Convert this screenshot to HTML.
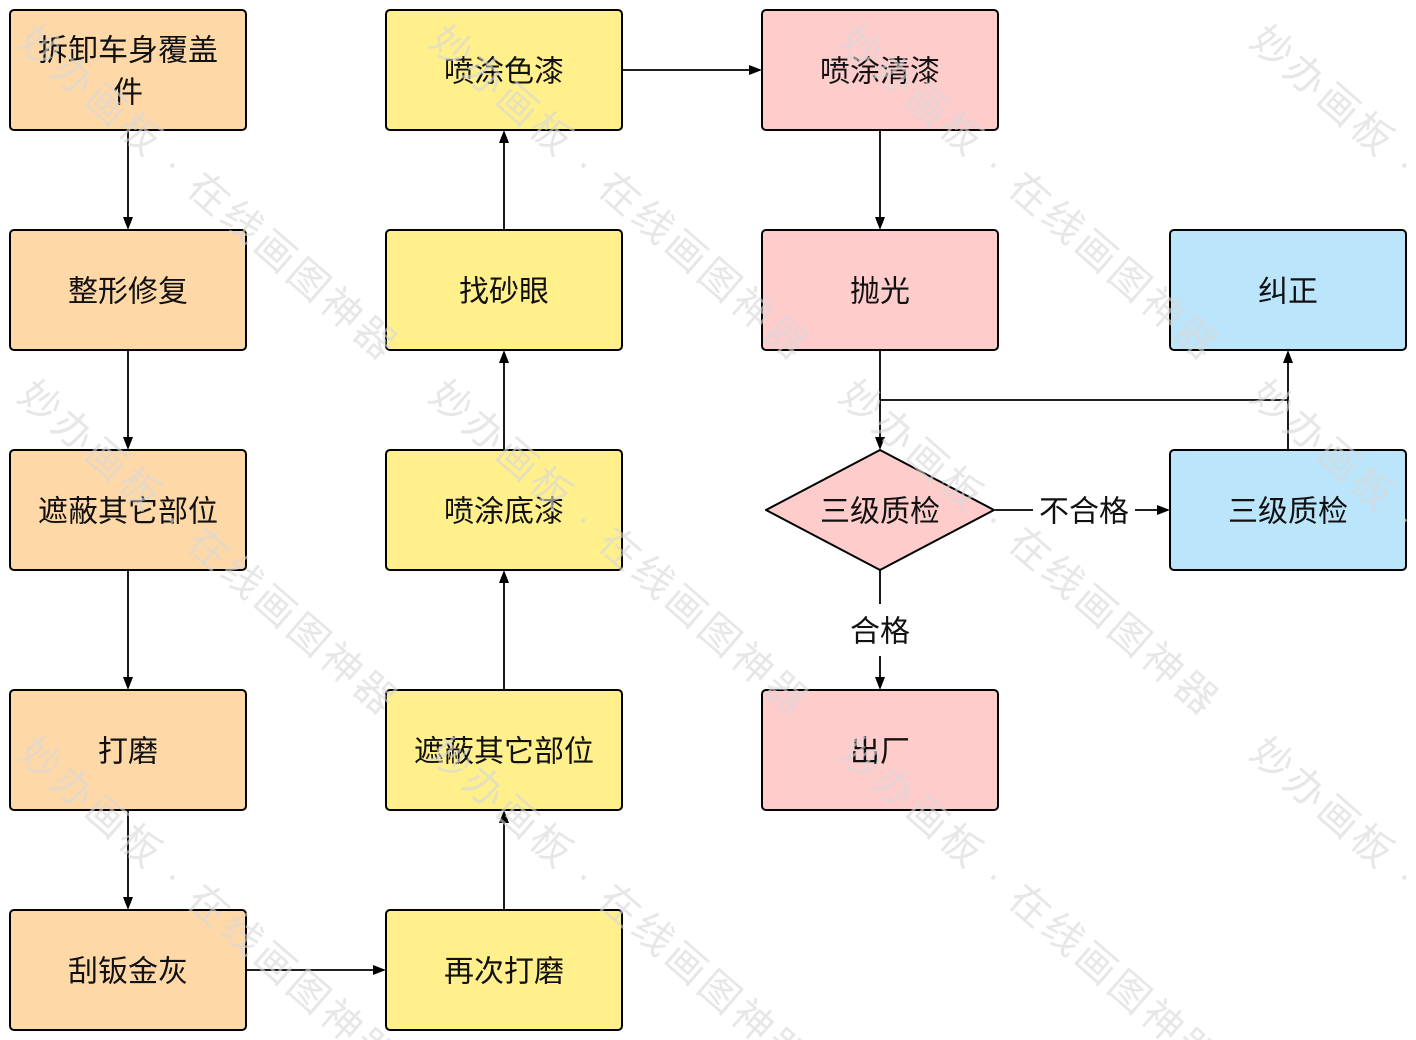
<!DOCTYPE html>
<html><head><meta charset="utf-8"><style>
html,body{margin:0;padding:0;background:#fff;}
svg{display:block;}
.t{font-family:"Liberation Sans","Noto Sans CJK SC",sans-serif;font-size:30px;fill:#111;text-anchor:middle;dominant-baseline:central;}
.wm{font-family:"Liberation Sans","Noto Sans CJK SC",sans-serif;font-size:40px;fill:#d8d8d8;opacity:0.6;letter-spacing:4px;}
</style></head><body>
<svg width="1416" height="1040" viewBox="0 0 1416 1040" xmlns="http://www.w3.org/2000/svg">
<rect width="1416" height="1040" fill="#fff"/>
<g stroke="#000" stroke-width="1.8" fill="none">
<line x1="128" y1="130" x2="128" y2="218"/>
<line x1="128" y1="350" x2="128" y2="438"/>
<line x1="128" y1="570" x2="128" y2="678"/>
<line x1="128" y1="810" x2="128" y2="898"/>
<line x1="246" y1="970" x2="374" y2="970"/>
<line x1="504" y1="910" x2="504" y2="822"/>
<line x1="504" y1="690" x2="504" y2="582"/>
<line x1="504" y1="450" x2="504" y2="362"/>
<line x1="504" y1="230" x2="504" y2="142"/>
<line x1="622" y1="70" x2="750" y2="70"/>
<line x1="880" y1="130" x2="880" y2="218"/>
<line x1="880" y1="350" x2="880" y2="438"/>
<line x1="880" y1="400" x2="1288" y2="400"/>
<line x1="1288" y1="450" x2="1288" y2="362"/>
<line x1="995" y1="510" x2="1033" y2="510"/>
<line x1="1135" y1="510" x2="1158" y2="510"/>
<line x1="880" y1="570" x2="880" y2="604"/>
<line x1="880" y1="656" x2="880" y2="678"/>
</g>
<g fill="#000">
<polygon points="123,217 133,217 128,230"/>
<polygon points="123,437 133,437 128,450"/>
<polygon points="123,677 133,677 128,690"/>
<polygon points="123,897 133,897 128,910"/>
<polygon points="373,965 373,975 386,970"/>
<polygon points="499,823 509,823 504,810"/>
<polygon points="499,583 509,583 504,570"/>
<polygon points="499,363 509,363 504,350"/>
<polygon points="499,143 509,143 504,130"/>
<polygon points="749,65 749,75 762,70"/>
<polygon points="875,217 885,217 880,230"/>
<polygon points="875,437 885,437 880,450"/>
<polygon points="1283,363 1293,363 1288,350"/>
<polygon points="1157,505 1157,515 1170,510"/>
<polygon points="875,677 885,677 880,690"/>
</g>
<g stroke="#000" stroke-width="2">
<rect x="10" y="10" width="236" height="120" rx="4" fill="#FFD8A8"/>
<rect x="10" y="230" width="236" height="120" rx="4" fill="#FFD8A8"/>
<rect x="10" y="450" width="236" height="120" rx="4" fill="#FFD8A8"/>
<rect x="10" y="690" width="236" height="120" rx="4" fill="#FFD8A8"/>
<rect x="10" y="910" width="236" height="120" rx="4" fill="#FFD8A8"/>
<rect x="386" y="10" width="236" height="120" rx="4" fill="#FFF08C"/>
<rect x="386" y="230" width="236" height="120" rx="4" fill="#FFF08C"/>
<rect x="386" y="450" width="236" height="120" rx="4" fill="#FFF08C"/>
<rect x="386" y="690" width="236" height="120" rx="4" fill="#FFF08C"/>
<rect x="386" y="910" width="236" height="120" rx="4" fill="#FFF08C"/>
<rect x="762" y="10" width="236" height="120" rx="4" fill="#FFCCCC"/>
<rect x="762" y="230" width="236" height="120" rx="4" fill="#FFCCCC"/>
<rect x="762" y="690" width="236" height="120" rx="4" fill="#FFCCCC"/>
<rect x="1170" y="230" width="236" height="120" rx="4" fill="#BBE5FB"/>
<rect x="1170" y="450" width="236" height="120" rx="4" fill="#BBE5FB"/>
<polygon points="766,510 880,450 994,510 880,570" fill="#FFCCCC" stroke-linejoin="round"/>
</g>
<g>
<text class="t" x="128" y="51">拆卸车身覆盖</text>
<text class="t" x="128" y="93">件</text>
<text class="t" x="128" y="292">整形修复</text>
<text class="t" x="128" y="512">遮蔽其它部位</text>
<text class="t" x="128" y="752">打磨</text>
<text class="t" x="128" y="972">刮钣金灰</text>
<text class="t" x="504" y="72">喷涂色漆</text>
<text class="t" x="504" y="292">找砂眼</text>
<text class="t" x="504" y="512">喷涂底漆</text>
<text class="t" x="504" y="752">遮蔽其它部位</text>
<text class="t" x="504" y="972">再次打磨</text>
<text class="t" x="880" y="72">喷涂清漆</text>
<text class="t" x="880" y="292">抛光</text>
<text class="t" x="880" y="512">三级质检</text>
<text class="t" x="880" y="752">出厂</text>
<text class="t" x="1288" y="292">纠正</text>
<text class="t" x="1288" y="512">三级质检</text>
<text class="t" x="1084" y="512">不合格</text>
<text class="t" x="880" y="632">合格</text>
</g>
<g>
<text class="wm" transform="translate(16,44) rotate(41)">妙办画板 · 在线画图神器</text>
<text class="wm" transform="translate(427,44) rotate(41)">妙办画板 · 在线画图神器</text>
<text class="wm" transform="translate(837,44) rotate(41)">妙办画板 · 在线画图神器</text>
<text class="wm" transform="translate(1248,44) rotate(41)">妙办画板 · 在线画图神器</text>
<text class="wm" transform="translate(16,399) rotate(41)">妙办画板 · 在线画图神器</text>
<text class="wm" transform="translate(427,399) rotate(41)">妙办画板 · 在线画图神器</text>
<text class="wm" transform="translate(837,399) rotate(41)">妙办画板 · 在线画图神器</text>
<text class="wm" transform="translate(1248,399) rotate(41)">妙办画板 · 在线画图神器</text>
<text class="wm" transform="translate(16,756) rotate(41)">妙办画板 · 在线画图神器</text>
<text class="wm" transform="translate(427,756) rotate(41)">妙办画板 · 在线画图神器</text>
<text class="wm" transform="translate(837,756) rotate(41)">妙办画板 · 在线画图神器</text>
<text class="wm" transform="translate(1248,756) rotate(41)">妙办画板 · 在线画图神器</text>
</g>
</svg>
</body></html>
